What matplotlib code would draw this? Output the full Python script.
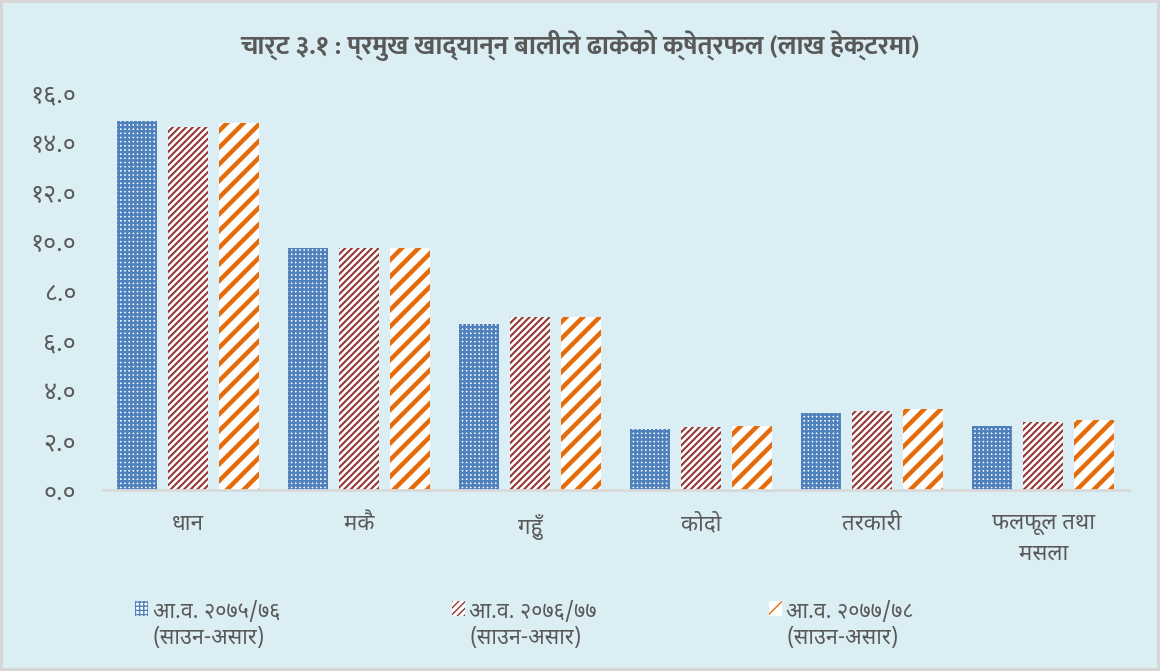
import matplotlib
matplotlib.use('Agg')
import matplotlib.pyplot as plt
import numpy as np

plt.rcParams['font.family'] = ['Noto Sans Devanagari', 'Ek Mukta', 'DejaVu Sans']

# data (lakh hectare)
crops = ['धान', 'मकै', 'गहुँ', 'कोदो', 'तरकारी', 'फलफूल तथा\nमसला']
fy_2075_76 = [14.88, 9.74, 6.71, 2.45, 3.11, 2.59]
fy_2076_77 = [14.61, 9.75, 6.98, 2.56, 3.19, 2.76]
fy_2077_78 = [14.79, 9.77, 6.99, 2.59, 3.27, 2.83]
series_labels = ['आ.व. २०७५/७६\n(साउन-असार)',
                 'आ.व. २०७६/७७\n(साउन-असार)',
                 'आ.व. २०७७/७८\n(साउन-असार)']
yticks = [0, 2, 4, 6, 8, 10, 12, 14, 16]
ytick_labels = ['०.०', '२.०', '४.०', '६.०', '८.०', '१०.०', '१२.०', '१४.०', '१६.०']
title = 'चार्ट ३.१ : प्रमुख खाद्यान्न बालीले ढाकेको क्षेत्रफल (लाख हेक्टरमा)'

bg = '#DAEEF3'
text_col = '#595959'

fig = plt.figure(figsize=(11.6, 6.71), dpi=100)
fig.patch.set_facecolor(bg)
fig.patch.set_edgecolor('#D6D6D6')
fig.patch.set_linewidth(3)
ax = fig.add_axes([0.0884, 0.2697, 0.8847, 0.5917])
ax.set_facecolor(bg)

x = np.arange(len(crops))
w = 0.234
off = 0.298
styles = [
    dict(values=fy_2075_76, color='#4F81BD', hatch='++++', hlw=1.8),
    dict(values=fy_2076_77, color='#943634', hatch='/////', hlw=1.5),
    dict(values=fy_2077_78, color='#E46C0A', hatch='//', hlw=3.2),
]
for i, s in enumerate(styles):
    with plt.rc_context({'hatch.linewidth': s['hlw']}):
        bars = ax.bar(x + (i - 1) * off, s['values'], width=w, color='white',
                      edgecolor=s['color'], linewidth=0, hatch=s['hatch'],
                      label=series_labels[i])
    for b in bars:
        if hasattr(b, 'set_hatch_linewidth'):
            b.set_hatch_linewidth(s['hlw'])

ax.set_xlim(-0.5, len(crops) - 0.5)
ax.set_ylim(0, 16)
ax.set_yticks(yticks)
ax.set_yticklabels(ytick_labels, fontsize=18, color=text_col)
ax.set_xticks(x)
ax.set_xticklabels(crops, fontsize=16, color=text_col, linespacing=1.55, va='top')
ax.tick_params(axis='both', length=0)
ax.tick_params(axis='y', pad=19)
ax.tick_params(axis='x', pad=17)
for side in ['top', 'right', 'left']:
    ax.spines[side].set_visible(False)
ax.spines['bottom'].set_color('#D9D9D9')
ax.spines['bottom'].set_linewidth(2)

fig.text(0.5, 0.932, title, ha='center', va='center', fontsize=19,
         fontweight='bold', color=text_col, family=['Ek Mukta', 'DejaVu Sans'])

leg = fig.legend(loc='upper left', bbox_to_anchor=(116 / 1160, 1 - 582 / 671),
                 ncol=3, frameon=False, fontsize=15.5, labelcolor=text_col,
                 handlelength=0.6, handleheight=0.7, handletextpad=0.2,
                 columnspacing=8.0)
# put the swatch next to the first line of each label
for col in leg._legend_handle_box.get_children():
    for row in col.get_children():
        row.align = 'top'

fig.savefig('out.png', dpi=100, facecolor=bg, edgecolor='#D6D6D6')
